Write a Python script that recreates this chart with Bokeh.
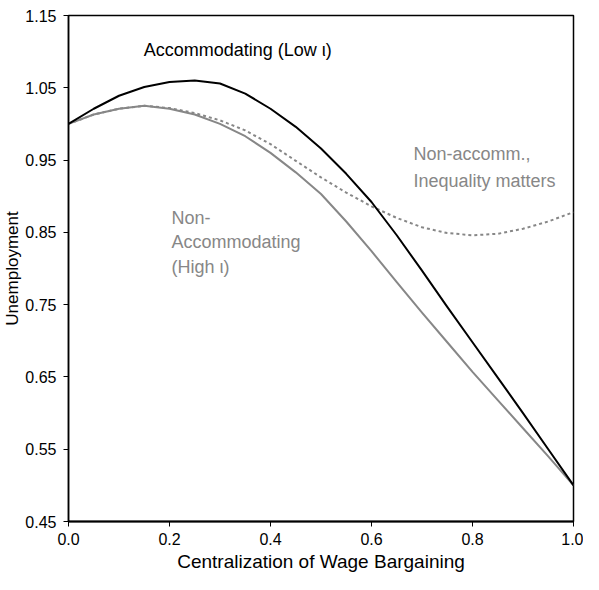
from bokeh.plotting import figure
from bokeh.models import Range1d, FixedTicker, NumeralTickFormatter, ColumnDataSource
from bokeh.core.properties import value
from bokeh.embed import file_html
from bokeh.resources import INLINE

# ---- data ----
x_vals = [0.0, 0.05, 0.1, 0.15, 0.2, 0.25, 0.3, 0.35, 0.4, 0.45, 0.5,
          0.55, 0.6, 0.65, 0.7, 0.75, 0.8, 0.85, 0.9, 0.95, 1.0]
accommodating_low = [1.000, 1.021, 1.039, 1.051, 1.058, 1.060, 1.056, 1.042, 1.021, 0.996, 0.966,
                     0.931, 0.892, 0.846, 0.797, 0.747, 0.698, 0.649, 0.600, 0.550, 0.500]
nonaccom_high = [1.000, 1.013, 1.021, 1.025, 1.021, 1.013, 1.000, 0.983, 0.960, 0.933, 0.903,
                 0.865, 0.824, 0.781, 0.739, 0.698, 0.657, 0.618, 0.579, 0.540, 0.500]
nonaccom_ineq = [1.000, 1.013, 1.021, 1.025, 1.022, 1.015, 1.005, 0.991, 0.972, 0.949, 0.926,
                 0.905, 0.886, 0.870, 0.857, 0.849, 0.846, 0.848, 0.855, 0.865, 0.878]

x_ticks = [0.0, 0.2, 0.4, 0.6, 0.8, 1.0]
y_ticks = [0.45, 0.55, 0.65, 0.75, 0.85, 0.95, 1.05, 1.15]

FONT = "Liberation Sans"
GRAY = "#878787"

p = figure(width=583, height=574, output_backend="svg", toolbar_location=None,
           x_range=Range1d(0, 1), y_range=Range1d(0.45, 1.15),
           min_border_left=50, min_border_right=10, min_border_top=15, min_border_bottom=45)

src = ColumnDataSource(dict(x=x_vals, a=accommodating_low, h=nonaccom_high, q=nonaccom_ineq))
p.line("x", "q", source=src, line_color=GRAY, line_width=2, line_dash="3 3", line_join="round")
p.line("x", "h", source=src, line_color=GRAY, line_width=2, line_join="round")
p.line("x", "a", source=src, line_color="black", line_width=2, line_join="round")

# annotations
p.text(x=[0.149], y=[1.102], text=["Accommodating (Low ι)"], text_font=value(FONT),
       text_font_size="18px", text_color="black", text_baseline="middle", text_align="left")
p.text(x=[0.683, 0.683], y=[0.958, 0.921], text=["Non-accomm.,", "Inequality matters"],
       text_font=value(FONT), text_font_size="18px", text_color=GRAY,
       text_baseline="middle", text_align="left")
p.text(x=[0.204, 0.204, 0.204], y=[0.870, 0.836, 0.802],
       text=["Non-", "Accommodating", "(High ι)"],
       text_font=value(FONT), text_font_size="18px", text_color=GRAY,
       text_baseline="middle", text_align="left")

p.grid.visible = False
p.outline_line_color = "black"
p.outline_line_width = 1.5

for ax in (p.xaxis[0], p.yaxis[0]):
    ax.axis_line_color = "black"
    ax.axis_line_width = 1.5
    ax.major_tick_line_color = "black"
    ax.major_tick_in = 0
    ax.major_tick_out = 5
    ax.minor_tick_line_color = None
    ax.major_label_text_font = FONT
    ax.major_label_text_font_size = "16px"
    ax.major_label_text_color = "black"
    ax.axis_label_text_font = FONT
    ax.axis_label_text_font_style = "normal"
    ax.axis_label_text_color = "black"

p.xaxis[0].ticker = FixedTicker(ticks=x_ticks)
p.xaxis[0].formatter = NumeralTickFormatter(format="0.0")
p.xaxis[0].axis_label = "Centralization of Wage Bargaining"
p.xaxis[0].axis_label_text_font_size = "19px"
p.xaxis[0].axis_line_width = 2
p.xaxis[0].major_label_standoff = 6
p.xaxis[0].axis_label_standoff = 3

p.yaxis[0].ticker = FixedTicker(ticks=y_ticks)
p.yaxis[0].formatter = NumeralTickFormatter(format="0.00")
p.yaxis[0].axis_label = "Unemployment"
p.yaxis[0].axis_label_text_font_size = "17px"
p.yaxis[0].major_label_standoff = 7
p.yaxis[0].axis_label_standoff = 0

open("out.html", "w").write(file_html(p, INLINE))
